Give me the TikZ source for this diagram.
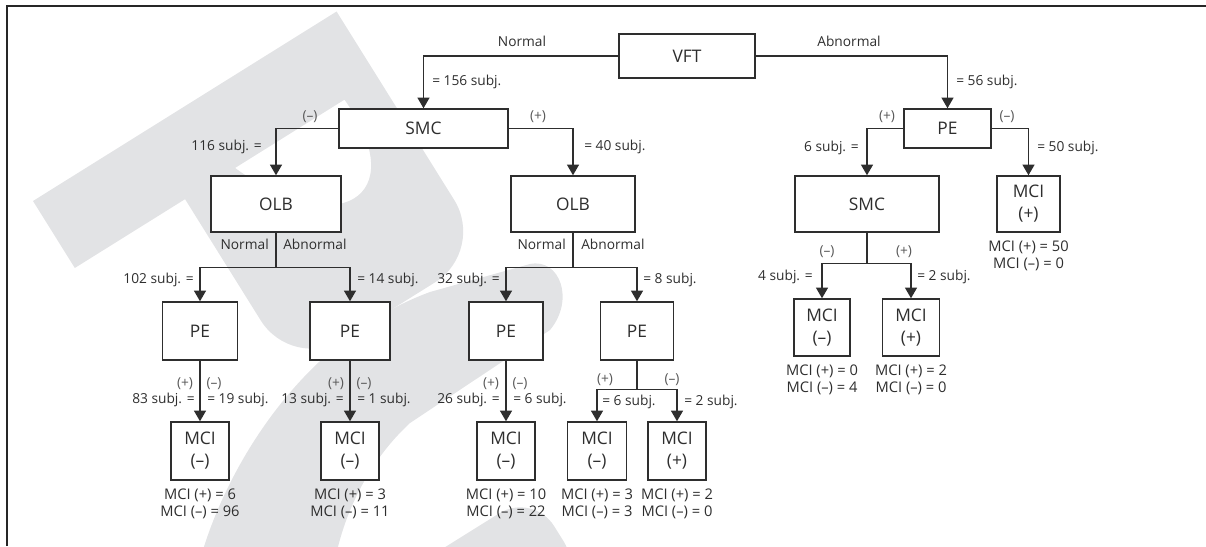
\documentclass[tikz,border=0pt]{standalone}
\usepackage{fontspec}
\setmainfont{Open Sans}
\usetikzlibrary{arrows.meta,positioning}

\definecolor{ink}{HTML}{2E2E2E}
\definecolor{wmark}{HTML}{E2E3E5}

\tikzset{
  box/.style={draw=ink, line width=1.1pt, fill=white, inner sep=0pt, align=center,
    text=ink, font=\fontsize{13}{16.5}\selectfont},
  sz/.style 2 args={minimum width=#1pt, minimum height=#2pt},
  lbl/.style={inner sep=0pt, text=ink, font=\fontsize{10.3}{12}\selectfont},
  sgn/.style={inner sep=0pt, text=ink!80, font=\fontsize{10.3}{12}\selectfont},
  res/.style={inner sep=0pt, align=center, text=ink, font=\fontsize{11}{12.75}\selectfont},
  line/.style={draw=ink, line width=1pt},
  arr/.style={line, -{Triangle[length=8pt,width=9pt]}},
}

\begin{document}
\begin{tikzpicture}[x=0.75pt,y=-0.75pt]
\useasboundingbox (0,0) rectangle (1206,546);

% watermark
\begin{scope}
\clip (0,0) rectangle (1206,546);
\begin{scope}[shift={(33,201)}, x={(0.636pt,0.397pt)}, y={(0.397pt,-0.636pt)}]
\fill[wmark, even odd rule] (0,0) -- (358,0) [rounded corners=45pt] -- (358,282) -- (130,282) [sharp corners] -- (130,79) -- (0,79) -- cycle
  (189,79) -- (318,79) .. controls (325,200) and (235,195) .. (189,79) -- cycle;
\fill[wmark, rounded corners=30pt] (-100,512) -- (270,512) -- (270,610) -- (-100,610) -- cycle;
\end{scope}
\fill[wmark] (200,560) .. controls (225,470) and (300,340) .. (430,292) -- (530,264)
  .. controls (560,258) and (575,300) .. (550,330) -- (410,423)
  .. controls (370,460) and (345,510) .. (335,560) -- cycle;
\end{scope}

% frame
\draw[line width=1.3pt, color=black!85] (7,546) -- (7,6) -- (1206,6);

% boxes
\node[box, sz={102}{33}] (vft) at (687,56) {VFT};
\node[box, sz={126.75}{29.25}] (smcA) at (423.5,128.5) {SMC};
\node[box, sz={65.25}{29.25}] (peA) at (947.5,128.5) {PE};
\node[box, sz={97.5}{42}] (olbA) at (276,204) {OLB};
\node[box, sz={93}{42}] (olbB) at (573,204) {OLB};
\node[box, sz={108}{42}] (smcB) at (867,204) {SMC};
\node[box, sz={47.25}{42}] (mciA) at (1028.5,204) {MCI\\(+)};
\node[box, sz={56.25}{43.5}] (pe1) at (200,331) {PE};
\node[box, sz={60}{43.5}] (pe2) at (350,331) {PE};
\node[box, sz={55.5}{43.5}] (pe3) at (506,331) {PE};
\node[box, sz={54.75}{43.5}] (pe4) at (637,331) {PE};
\node[box, sz={43.5}{43.5}] (mci1) at (200,451) {MCI\\(–)};
\node[box, sz={43.5}{43.5}] (mci2) at (350,451) {MCI\\(–)};
\node[box, sz={43.5}{43.5}] (mci3) at (506,451) {MCI\\(–)};
\node[box, sz={44.25}{43.5}] (mci4) at (597,451) {MCI\\(–)};
\node[box, sz={43.5}{43.5}] (mci5) at (677,451) {MCI\\(+)};
\node[box, sz={42}{42.75}] (mciB) at (822,327.5) {MCI\\(–)};
\node[box, sz={42.75}{42.75}] (mciC) at (911,327.5) {MCI\\(+)};

% connectors
\draw[arr] (vft.west) -| (smcA.north);
\draw[arr] (vft.east) -| (peA.north);
\draw[arr] (smcA.west) -| (olbA.north);
\draw[arr] (smcA.east) -| (olbB.north);
\draw[arr] (peA.west) -| (smcB.north);
\draw[arr] (peA.east) -| (mciA.north);
\draw[line] (olbA.south) -- ++(0,35) coordinate (jA);
\draw[arr] (jA) -| (pe1.north);
\draw[arr] (jA) -| (pe2.north);
\draw[line] (olbB.south) -- ++(0,35) coordinate (jB);
\draw[arr] (jB) -| (pe3.north);
\draw[arr] (jB) -| (pe4.north);
\draw[line] (smcB.south) -- ++(0,31) coordinate (jC);
\draw[arr] (jC) -| (mciB.north);
\draw[arr] (jC) -| (mciC.north);
\draw[line] (pe4.south) -- ++(0,29) coordinate (jD);
\draw[arr] (jD) -| (mci4.north);
\draw[arr] (jD) -| (mci5.north);
\draw[arr] (pe1.south) -- (mci1.north);
\draw[arr] (pe2.south) -- (mci2.north);
\draw[arr] (pe3.south) -- (mci3.north);

% branch labels
\node[lbl, anchor=mid] (tN0) at (522,43) {Normal};
\node[lbl, anchor=mid] (tA0) at (849,43) {Abnormal};
\node[lbl, anchor=mid west] (n156) at (432,82) {= 156 subj.};
\node[lbl, anchor=mid west] (n56) at (956,82) {= 56 subj.};
\node[sgn, anchor=mid] (sA1) at (310,117) {(–)};
\node[sgn, anchor=mid] (sA2) at (538,117) {(+)};
\node[lbl, anchor=mid east] (n116) at (262,147) {116 subj. =};
\node[lbl, anchor=mid west] (n40) at (584,147) {= 40 subj.};
\node[sgn, anchor=mid] (sB1) at (887,117) {(+)};
\node[sgn, anchor=mid] (sB2) at (1007,117) {(–)};
\node[lbl, anchor=mid east] (n6a) at (859,148) {6 subj. =};
\node[lbl, anchor=mid west] (n50) at (1037,148) {= 50 subj.};

\node[lbl, anchor=mid east] (tN1) at (269,246) {Normal};
\node[lbl, anchor=mid west] (tA1) at (283,246) {Abnormal};
\node[lbl, anchor=mid east] (n102) at (194,280) {102 subj. =};
\node[lbl, anchor=mid west] (n14) at (357,280) {= 14 subj.};
\node[lbl, anchor=mid east] (tN2) at (566,246) {Normal};
\node[lbl, anchor=mid west] (tA2) at (581,246) {Abnormal};
\node[lbl, anchor=mid east] (n32) at (500,280) {32 subj. =};
\node[lbl, anchor=mid west] (n8) at (643,280) {= 8 subj.};

\node[sgn, anchor=mid] (sC1) at (827,252) {(–)};
\node[sgn, anchor=mid] (sC2) at (904,252) {(+)};
\node[lbl, anchor=mid east] (n4) at (813,277) {4 subj. =};
\node[lbl, anchor=mid west] (n2a) at (917,277) {= 2 subj.};

\node[sgn, anchor=mid] (sD1) at (185,384) {(+)};
\node[sgn, anchor=mid] (sD2) at (214,384) {(–)};
\node[lbl, anchor=mid east] (n83) at (195,400) {83 subj. =};
\node[lbl, anchor=mid west] (n19) at (207,400) {= 19 subj.};
\node[sgn, anchor=mid] (sE1) at (336,384) {(+)};
\node[sgn, anchor=mid] (sE2) at (364,384) {(–)};
\node[lbl, anchor=mid east] (n13) at (344,400) {13 subj. =};
\node[lbl, anchor=mid west] (n1) at (357,400) {= 1 subj.};
\node[sgn, anchor=mid] (sF1) at (491,384) {(+)};
\node[sgn, anchor=mid] (sF2) at (520,384) {(–)};
\node[lbl, anchor=mid east] (n26) at (500,400) {26 subj. =};
\node[lbl, anchor=mid west] (n6b) at (513,400) {= 6 subj.};
\node[sgn, anchor=mid] (sG1) at (605,380) {(+)};
\node[sgn, anchor=mid] (sG2) at (672,380) {(–)};
\node[lbl, anchor=mid west] (n6c) at (602,402) {= 6 subj.};
\node[lbl, anchor=mid west] (n2b) at (684,402) {= 2 subj.};

% outcome counts
\node[res, below=6pt of mciA] (rA) {MCI (+) = 50\\MCI (–) = 0};
\node[res, below=6pt of mciB] (rB) {MCI (+) = 0\\MCI (–) = 4};
\node[res, below=6pt of mciC] (rC) {MCI (+) = 2\\MCI (–) = 0};
\node[res, below=6pt of mci1] (r1) {MCI (+) = 6\\MCI (–) = 96};
\node[res, below=6pt of mci2] (r2) {MCI (+) = 3\\MCI (–) = 11};
\node[res, below=6pt of mci3] (r3) {MCI (+) = 10\\MCI (–) = 22};
\node[res, below=6pt of mci4] (r4) {MCI (+) = 3\\MCI (–) = 3};
\node[res, below=6pt of mci5] (r5) {MCI (+) = 2\\MCI (–) = 0};
\end{tikzpicture}
\end{document}
